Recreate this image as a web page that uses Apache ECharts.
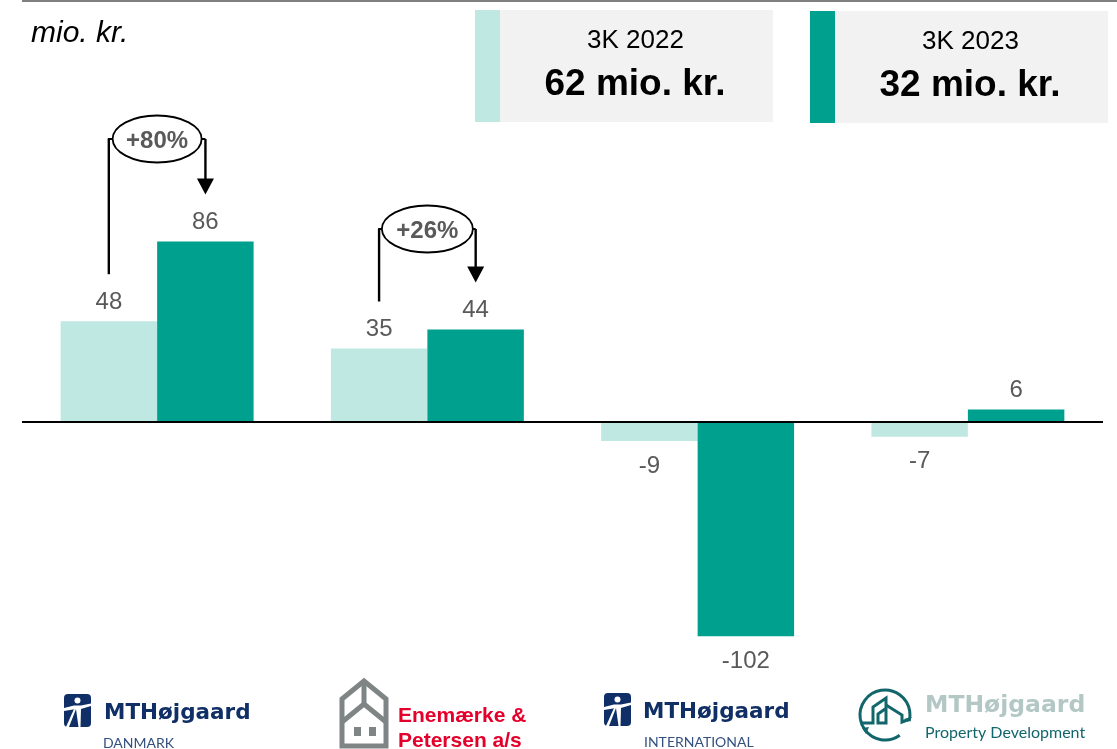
<!DOCTYPE html>
<html>
<head>
<meta charset="utf-8">
<style>html,body{margin:0;padding:0;background:#fff}#c{width:1117px;height:749px}</style>
<script src="https://cdn.jsdelivr.net/npm/echarts@6/dist/echarts.min.js"></script>
</head>
<body>
<div id="c"></div>
<script>
const categories = ['MTHøjgaard Danmark', 'Enemærke & Petersen a/s', 'MTHøjgaard International', 'MTHøjgaard Property Development'];
const values2022 = [48, 35, -9, -7];
const values2023 = [86, 44, -102, 6];
const seriesNames = ['3K 2022', '3K 2023'];
const totals = ['62 mio. kr.', '32 mio. kr.'];
const growthLabels = ['+80%', '+26%'];

const LIGHT = '#BFE8E2', TEAL = '#00A08E', GREY = '#595959', FONT = '"Liberation Sans", Arial, sans-serif';
const NAVY = '#0F2F66', HOUSE = '#7F8585', RED = '#E4002B', DEEP = '#12666B', PALE = '#B3C8C5';

const chart = echarts.init(document.getElementById('c'), null, {renderer: 'canvas'});

function barData(vals) {
  return vals.map(v => ({value: v, label: {distance: v < 0 ? 13 : 7}}));
}
function barSeries(name, vals, color) {
  return {
    name, type: 'bar', data: barData(vals), barGap: 0, barCategoryGap: '28.6%',
    itemStyle: {color},
    label: {show: true, position: 'outside', color: GREY, fontFamily: FONT, fontSize: 24},
    silent: true
  };
}
chart.setOption({
  animation: false,
  backgroundColor: '#fff',
  grid: {left: 22, right: 14, top: 2, bottom: 75, containLabel: false},
  xAxis: {
    type: 'category', data: categories, z: 10,
    axisLine: {show: true, onZero: true, lineStyle: {color: '#000', width: 2, cap: 'butt'}},
    axisTick: {show: false}, axisLabel: {show: false}
  },
  yAxis: {type: 'value', min: -120, max: 200, interval: 40, show: false},
  series: [barSeries(seriesNames[0], values2022, LIGHT), barSeries(seriesNames[1], values2023, TEAL)]
});

const txt = (text, x, y, font, fill, align) => ({
  type: 'text', silent: true, z: 20,
  style: {text, x, y, font, fill, textAlign: align || 'center', textVerticalAlign: 'middle'}
});
const rect = (x, y, width, height, fill, r) => ({type: 'rect', silent: true, z: 10, shape: {x, y, width, height, r: r || 0}, style: {fill}});
const line = (x1, y1, x2, y2, stroke, lineWidth) => ({type: 'line', silent: true, z: 12, shape: {x1, y1, x2, y2}, style: {stroke, lineWidth}});
const poly = (points, style, closed) => ({type: closed === false ? 'polyline' : 'polygon', silent: true, z: 12, shape: {points}, style});

function legendCard(x, y, swatch, name, total) {
  return [
    rect(x, y, 298, 112, '#F2F2F2'),
    rect(x, y, 25, 112, swatch),
    txt(name, x + 160.5, y + 31, '26px ' + FONT, '#000'),
    txt(total, x + 160, y + 75, 'bold 37px ' + FONT, '#000')
  ];
}
function bracket(catIdx, fromVal, toVal, ellipseCy, rx) {
  const cx = chart.convertToPixel({xAxisIndex: 0}, categories[catIdx]);
  const half = 48.3;
  const left = cx - half, right = cx + half;
  const fromTop = chart.convertToPixel({yAxisIndex: 0}, fromVal) - 47;
  const tipY = chart.convertToPixel({yAxisIndex: 0}, toVal) - 47;
  return [
    line(left, fromTop, left, ellipseCy, '#000', 2.4),
    line(left - 1, ellipseCy, left + 5, ellipseCy, '#000', 2),
    line(right - 4, ellipseCy, right, ellipseCy, '#000', 2),
    line(right, ellipseCy, right, tipY - 14, '#000', 2.4),
    poly([[right - 8.5, tipY - 16], [right + 8.5, tipY - 16], [right, tipY]], {fill: '#000'}),
    {type: 'ellipse', silent: true, z: 14, shape: {cx, cy: ellipseCy, rx, ry: 23.5}, style: {fill: '#fff', stroke: '#000', lineWidth: 1.8}},
    txt(growthLabels[catIdx], cx, ellipseCy + 2.5, 'bold 24px ' + FONT, GREY)
  ];
}
function mthIcon(x, y) {
  return [
    rect(x, y, 27, 33, NAVY, 4),
    {type: 'circle', silent: true, z: 13, shape: {cx: x + 13.5, cy: y + 6.5, r: 3}, style: {fill: '#fff'}},
    poly([[x, y + 14], [x + 10, y + 11.5], [x + 17, y + 11.5], [x + 27, y + 9.5], [x + 27, y + 12], [x + 17, y + 15], [x + 16.5, y + 33], [x + 14.5, y + 33], [x + 12, y + 15], [x, y + 17]], {fill: '#fff'}),
    poly([[x + 10, y + 15], [x + 12, y + 15], [x + 5, y + 33], [x + 2, y + 33]], {fill: '#fff'})
  ].map(e => (e.z = 13, e));
}
function mthLogo(iconX, iconY, textX, textY, subX, subY, sub) {
  return [
    ...mthIcon(iconX, iconY),
    txt('MTHøjgaard', textX, textY, 'bold 21.5px "DejaVu Sans"', NAVY, 'left'),
    txt(sub, subX, subY, '14px Lato', '#33507F', 'left')
  ];
}
function epLogo() {
  const st = {stroke: HOUSE, lineWidth: 5, fill: 'none', lineJoin: 'miter'};
  return [
    poly([[342, 699], [364, 681], [386, 699], [386, 746], [342, 746]], st),
    poly([[364, 680], [364, 704]], st, false),
    poly([[342, 722], [364, 704], [386, 722]], st, false),
    rect(354, 727, 7, 9, HOUSE),
    rect(369, 727, 7, 9, HOUSE),
    txt('Enemærke &', 398, 716, 'bold 21px ' + FONT, RED, 'left'),
    txt('Petersen a/s', 398, 741, 'bold 21px ' + FONT, RED, 'left')
  ];
}
function pdLogo() {
  const st = {stroke: DEEP, lineWidth: 3, fill: 'none'};
  const arc = (a, b) => ({type: 'arc', silent: true, z: 12, shape: {cx: 885, cy: 715, r: 25, startAngle: a, endAngle: b, clockwise: true}, style: {stroke: DEEP, lineWidth: 3, fill: 'none'}});
  return [
    arc(-Math.PI * 1.05, Math.PI * 0.08),
    arc(Math.PI * 0.3, Math.PI * 0.95),
    poly([[912, 717], [904, 719], [908, 722]], {fill: DEEP}),
    poly([[862, 728], [869, 727], [866, 734]], {fill: DEEP}),
    poly([[862, 723], [873, 723], [873, 707], [886, 698], [886, 723], [878, 723], [878, 714], [885, 709]], st, false),
    poly([[886, 705], [902, 715], [902, 722], [910, 719]], st, false),
    txt('MTHøjgaard', 925, 706, 'bold 23.5px "DejaVu Sans"', PALE, 'left'),
    txt('Property Development', 925, 733, '16px Lato', DEEP, 'left')
  ];
}

chart.setOption({
  graphic: {elements: [
    rect(22, 0, 1095, 2, '#7F7F7F'),
    txt('mio. kr.', 31, 34, 'italic 30px ' + FONT, '#000', 'left'),
    ...legendCard(475, 10, LIGHT, seriesNames[0], totals[0]),
    ...legendCard(810, 11, TEAL, seriesNames[1], totals[1]),
    ...bracket(0, values2022[0], values2023[0], 139, 44.5),
    ...bracket(1, values2022[1], values2023[1], 229, 45.5),
    ...mthLogo(64, 694, 104, 713, 103, 743, 'DANMARK'),
    ...mthLogo(604, 693, 643, 712, 644, 742, 'INTERNATIONAL'),
    ...epLogo(),
    ...pdLogo()
  ]}
});
</script>
</body>
</html>
